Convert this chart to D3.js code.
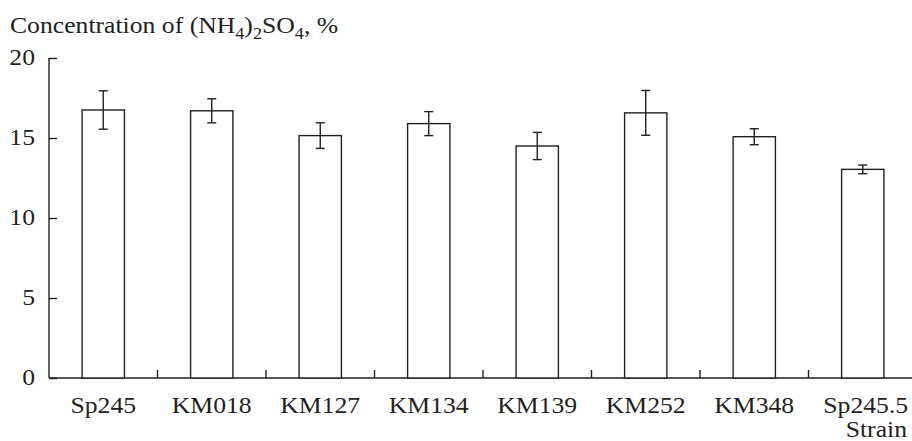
<!DOCTYPE html>
<html><head><meta charset="utf-8">
<script src="https://cdn.jsdelivr.net/npm/d3@7"></script>
<style>
html,body{margin:0;padding:0;background:#fff;}
svg{display:block;}
text{font-family:"Liberation Serif","Times New Roman",serif;fill:#231f20;}
</style></head>
<body>
<svg id="chart" width="912" height="441"></svg>
<script>
const categories = ["Sp245","KM018","KM127","KM134","KM139","KM252","KM348","Sp245.5"];
const values = [16.75, 16.7, 15.15, 15.9, 14.5, 16.57, 15.08, 13.04];
const errors = [1.2, 0.75, 0.8, 0.75, 0.85, 1.4, 0.5, 0.27];
const yTicks = [0, 5, 10, 15, 20];

const svg = d3.select("#chart");
const ink = "#231f20";
const sx = 1.07, fs = 24;

const x = d3.scaleBand().domain(categories).range([49, 917]).paddingInner(0.61).paddingOuter(0.305);
const y = d3.scaleLinear().domain([0, 20]).range([378, 58]);

// Y axis
const yAxis = d3.axisRight(y).tickValues(yTicks).tickSize(8).tickFormat("");
const gy = svg.append("g").attr("transform", "translate(49,0)").call(yAxis);
gy.select(".domain").attr("d", `M0,${y(20)}V${y(0)}`).attr("stroke", ink).attr("stroke-width", 1.4);
gy.selectAll(".tick line").attr("stroke", ink).attr("stroke-width", 1.4);

svg.append("g").selectAll("text").data(yTicks).join("text")
  .attr("transform", d => `translate(35,${y(d) + 7}) scale(${sx},1)`)
  .attr("text-anchor", "end").attr("font-size", fs).text(d => d);

// X axis
svg.append("line").attr("x1", 49).attr("x2", 912).attr("y1", y(0)).attr("y2", y(0))
  .attr("stroke", ink).attr("stroke-width", 1.4);
const step = x.step();
const boundaries = categories.slice(1).map(c => x(c) - (step - x.bandwidth()) / 2);
svg.append("g").selectAll("line").data(boundaries).join("line")
  .attr("x1", d => d).attr("x2", d => d).attr("y1", y(0)).attr("y2", y(0) - 8)
  .attr("stroke", ink).attr("stroke-width", 1.4);

// Bars
svg.append("g").selectAll("rect").data(categories).join("rect")
  .attr("x", d => x(d)).attr("width", x.bandwidth())
  .attr("y", (d, i) => y(values[i])).attr("height", (d, i) => y(0) - y(values[i]))
  .attr("fill", "#fff").attr("stroke", ink).attr("stroke-width", 1.4);

// Error bars
const eb = svg.append("g").attr("stroke", ink).attr("stroke-width", 1.4);
categories.forEach((c, i) => {
  const cx = x(c) + x.bandwidth() / 2;
  const hi = y(values[i] + errors[i]), lo = y(values[i] - errors[i]);
  eb.append("line").attr("x1", cx).attr("x2", cx).attr("y1", hi).attr("y2", lo);
  eb.append("line").attr("x1", cx - 4.5).attr("x2", cx + 4.5).attr("y1", hi).attr("y2", hi);
  eb.append("line").attr("x1", cx - 4.5).attr("x2", cx + 4.5).attr("y1", lo).attr("y2", lo);
});

// Category labels
svg.append("g").selectAll("text").data(categories).join("text")
  .attr("transform", (d, i) => `translate(${x(d) + x.bandwidth() / 2 + (i === categories.length - 1 ? 3 : 0)},413) scale(${sx},1)`)
  .attr("text-anchor", "middle").attr("font-size", fs).text(d => d);

// X axis title
svg.append("text").attr("transform", `translate(907,437) scale(${sx},1)`)
  .attr("text-anchor", "end").attr("font-size", fs).text("Strain");

// Y axis title
const t = svg.append("text").attr("transform", `translate(10,33) scale(${sx},1)`).attr("font-size", fs);
t.append("tspan").text("Concentration of (NH");
t.append("tspan").attr("dy", 6).attr("font-size", 17).text("4");
t.append("tspan").attr("dy", -6).text(")");
t.append("tspan").attr("dy", 6).attr("font-size", 17).text("2");
t.append("tspan").attr("dy", -6).text("SO");
t.append("tspan").attr("dy", 6).attr("font-size", 17).text("4");
t.append("tspan").attr("dy", -6).text(", %");
</script>
</body></html>
